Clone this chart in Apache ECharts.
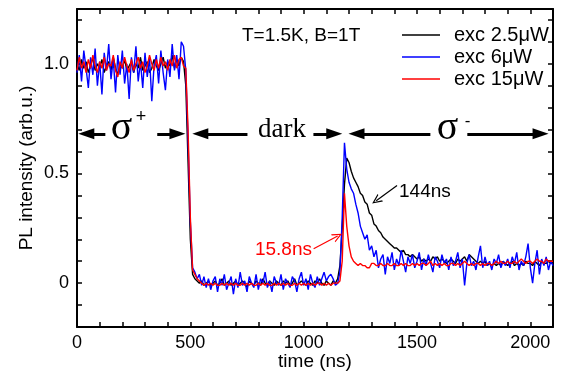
<!DOCTYPE html>
<html>
<head>
<meta charset="utf-8">
<script src="https://cdn.jsdelivr.net/npm/echarts@6/dist/echarts.min.js"></script>
<style>html,body{margin:0;padding:0;background:#fff}#c{width:565px;height:388px}</style>
</head>
<body>
<div id="c"></div>
<script>
// time axis (ns), sampled every 10 ns
const time = [
0,10,20,30,40,50,60,70,80,90,
100,110,120,130,140,150,160,170,180,190,
200,210,220,230,240,250,260,270,280,290,
300,310,320,330,340,350,360,370,380,390,
400,410,420,430,440,450,460,470,480,490,
500,510,520,530,540,550,560,570,580,590,
600,610,620,630,640,650,660,670,680,690,
700,710,720,730,740,750,760,770,780,790,
800,810,820,830,840,850,860,870,880,890,
900,910,920,930,940,950,960,970,980,990,
1000,1010,1020,1030,1040,1050,1060,1070,1080,1090,
1100,1110,1120,1130,1140,1150,1160,1170,1180,1190,
1200,1210,1220,1230,1240,1250,1260,1270,1280,1290,
1300,1310,1320,1330,1340,1350,1360,1370,1380,1390,
1400,1410,1420,1430,1440,1450,1460,1470,1480,1490,
1500,1510,1520,1530,1540,1550,1560,1570,1580,1590,
1600,1610,1620,1630,1640,1650,1660,1670,1680,1690,
1700,1710,1720,1730,1740,1750,1760,1770,1780,1790,
1800,1810,1820,1830,1840,1850,1860,1870,1880,1890,
1900,1910,1920,1930,1940,1950,1960,1970,1980,1990,
2000,2010,2020,2030,2040,2050,2060,2070,2080,2090,
2100];

// exc 2.5 uW (black)
const exc25 = [
1.00,0.97,1.02,0.98,1.01,0.96,0.99,1.03,0.97,1.00,
0.98,1.02,0.96,0.99,1.01,0.97,1.03,0.98,0.95,1.00,
0.98,1.02,0.97,0.99,1.01,0.96,1.00,0.98,1.03,0.97,
0.99,1.01,0.96,0.98,1.02,0.99,0.97,1.00,1.03,0.98,
1.01,0.99,1.04,0.98,1.02,0.99,1.03,1.01,0.90,0.55,
0.20,0.04,0.02,0.01,0.00,0.01,-0.01,0.00,0.01,-0.01,
0.00,0.01,-0.01,0.00,0.02,-0.01,0.00,0.01,-0.01,0.00,
0.01,-0.01,0.00,0.01,0.00,-0.02,0.01,0.00,-0.01,0.01,
0.00,-0.01,0.02,0.00,-0.01,0.01,0.00,-0.01,0.01,0.00,
-0.01,0.01,0.00,0.01,-0.01,0.00,0.02,-0.01,0.00,0.01,
0.00,-0.01,0.01,0.00,-0.01,0.01,0.00,0.02,0.00,-0.01,
0.01,0.00,-0.01,0.01,0.00,0.02,0.08,0.25,0.45,0.57,
0.55,0.51,0.48,0.46,0.44,0.41,0.40,0.37,0.36,0.32,
0.31,0.27,0.26,0.24,0.23,0.21,0.20,0.19,0.18,0.17,
0.16,0.16,0.15,0.14,0.15,0.13,0.13,0.12,0.13,0.12,
0.11,0.12,0.10,0.11,0.10,0.11,0.10,0.12,0.11,0.12,
0.10,0.11,0.10,0.09,0.10,0.11,0.10,0.09,0.11,0.10,
0.11,0.12,0.10,0.13,0.12,0.11,0.10,0.09,0.10,0.09,
0.10,0.08,0.09,0.08,0.09,0.08,0.09,0.08,0.10,0.09,
0.08,0.09,0.10,0.08,0.09,0.08,0.09,0.08,0.10,0.09,
0.09,0.08,0.10,0.09,0.08,0.10,0.09,0.09,0.10,0.09,
0.09];

// exc 6 uW (blue)
const exc6 = [
0.96,1.04,0.92,1.06,0.98,0.89,1.03,0.95,1.07,0.90,
1.01,0.86,1.05,0.97,1.09,0.93,1.02,0.87,1.04,0.95,
1.06,0.91,1.00,0.84,1.03,0.96,1.08,0.92,1.01,0.89,
1.05,0.94,1.03,0.83,0.99,1.04,0.91,1.06,0.96,0.88,
1.02,0.94,1.09,0.97,1.04,0.93,1.10,1.08,0.97,0.65,
0.28,0.07,0.05,0.02,0.04,-0.01,0.03,-0.02,0.02,-0.03,
0.01,0.03,-0.04,0.02,-0.01,0.04,-0.03,0.00,0.03,-0.05,
0.02,-0.02,0.05,-0.01,0.01,-0.04,0.03,0.00,-0.02,0.04,
-0.03,0.02,0.00,0.05,-0.02,0.01,-0.04,0.03,0.00,-0.01,
0.04,-0.03,0.02,0.00,-0.02,0.03,0.01,-0.04,0.02,0.05,
-0.01,0.02,-0.03,0.04,0.00,-0.02,0.03,-0.01,0.02,0.05,
0.01,0.03,0.04,0.02,-0.01,0.00,0.05,0.30,0.64,0.52,
0.46,0.43,0.41,0.36,0.32,0.26,0.23,0.20,0.22,0.15,
0.17,0.12,0.15,0.07,0.11,0.13,0.04,0.12,0.09,0.14,
0.06,0.11,0.08,0.15,0.10,0.05,0.12,0.09,0.13,0.07,
0.10,0.14,0.06,0.11,0.08,0.13,0.09,0.05,0.12,0.10,
0.07,0.13,0.09,0.11,0.06,0.12,0.08,0.10,0.14,0.07,
0.11,-0.01,0.09,0.13,0.08,0.10,0.06,0.12,0.17,0.07,
0.12,0.08,0.10,0.06,0.11,0.09,0.13,0.07,0.10,0.08,
0.11,0.07,0.12,0.09,0.14,0.06,0.10,0.08,0.12,0.18,
0.07,0.00,0.09,0.15,0.04,0.11,0.08,0.12,0.06,0.10,
0.08];

// exc 15 uW (red)
const exc15 = [
0.97,1.03,0.98,1.01,0.96,1.02,0.98,1.04,0.99,0.96,
1.01,0.98,1.03,0.97,1.00,0.99,1.04,0.97,0.94,1.01,
0.98,1.03,0.99,0.96,1.02,0.97,1.00,1.03,0.98,1.01,
0.96,0.99,1.04,1.00,0.97,1.02,0.98,1.03,0.99,1.01,
0.97,1.02,0.99,1.04,0.98,1.02,1.03,0.99,0.98,0.70,
0.30,0.06,0.04,0.02,0.01,0.00,-0.01,0.00,-0.01,0.00,
-0.01,0.00,-0.01,-0.01,0.00,-0.01,0.00,-0.01,0.00,-0.01,
0.00,-0.01,-0.01,0.00,-0.01,0.00,-0.01,0.00,-0.01,-0.01,
0.00,-0.01,0.00,-0.01,0.00,-0.01,-0.01,0.00,-0.01,0.00,
-0.01,0.00,-0.01,0.00,-0.01,-0.01,0.00,-0.01,0.00,-0.01,
0.00,-0.01,0.00,-0.01,0.00,-0.01,0.00,0.00,-0.01,0.00,
-0.01,0.00,-0.01,0.00,0.00,0.00,0.01,0.10,0.41,0.26,
0.17,0.12,0.10,0.09,0.08,0.09,0.08,0.08,0.07,0.07,
0.09,0.09,0.08,0.08,0.09,0.08,0.08,0.09,0.08,0.08,
0.09,0.08,0.08,0.09,0.08,0.09,0.08,0.08,0.09,0.08,
0.09,0.08,0.09,0.09,0.08,0.09,0.10,0.08,0.09,0.08,
0.09,0.08,0.09,0.08,0.08,0.09,0.09,0.08,0.09,0.08,
0.09,0.10,0.09,0.08,0.09,0.08,0.09,0.09,0.08,0.09,
0.08,0.09,0.09,0.08,0.09,0.10,0.09,0.10,0.09,0.09,
0.10,0.09,0.09,0.10,0.09,0.10,0.11,0.10,0.09,0.10,
0.10,0.09,0.10,0.11,0.10,0.10,0.09,0.11,0.10,0.10,
0.10];

const seriesNames = ['exc 2.5\u03bcW', 'exc 6\u03bcW', 'exc 15\u03bcW'];
const seriesColors = ['#000000', '#0000ff', '#ff0000'];
const seriesValues = [exc25, exc6, exc15];
const xTickLabels = [0, 500, 1000, 1500, 2000];
const yTickLabels = {'0': '0', '0.5': '0.5', '1': '1.0'};

const FONT = '"Liberation Sans", Arial, sans-serif';
const SERIF = '"Liberation Serif", "Times New Roman", serif';

function pairs(vals) { return time.map((t, i) => [t, vals[i]]); }

const chart = echarts.init(document.getElementById('c'), null, {renderer: 'canvas'});

const axisCommon = {
  axisLine: {show: true, onZero: false, lineStyle: {color: '#000', width: 2}},
  axisTick: {show: true, inside: true, length: 5, lineStyle: {color: '#000', width: 1.5}},
  splitLine: {show: false}
};

const chevron = 'path://M5,0 L10,10 L8.6,10 L5,2.8 L1.4,10 L0,10 Z';

const arrowY = 0.681;
function half(x1, x2, tipAtStart) {
  return [
    {coord: [x1, arrowY], symbol: tipAtStart ? 'triangle' : 'none'},
    {coord: [x2, arrowY], symbol: tipAtStart ? 'none' : 'triangle'}
  ];
}

const series = seriesNames.map((name, k) => ({
  name: name,
  type: 'line',
  data: pairs(seriesValues[k]),
  symbol: 'none',
  showSymbol: false,
  lineStyle: {color: seriesColors[k], width: 1.4},
  itemStyle: {color: seriesColors[k]},
  z: 2 + k,
  animation: false
}));

// decay-time annotation arrows
series[0].markLine = {
  silent: true, animation: false,
  symbol: ['none', chevron], symbolSize: [9, 10],
  label: {show: false},
  lineStyle: {color: '#000', width: 1.2, type: 'solid'},
  data: [[{coord: [1412, 0.445]}, {coord: [1320, 0.376]}]]
};
series[2].markLine = {
  silent: true, animation: false,
  symbol: ['none', chevron], symbolSize: [9, 10],
  label: {show: false},
  lineStyle: {color: '#ff0000', width: 1.2, type: 'solid'},
  data: [[{coord: [1044, 0.157]}, {coord: [1150, 0.215]}]]
};

// polarization / dark double arrows
series.push({
  name: 'annot', type: 'line', data: [], z: 10, animation: false,
  markLine: {
    silent: true, animation: false,
    symbolSize: [11, 16],
    label: {show: false},
    lineStyle: {color: '#000', width: 3, type: 'solid'},
    itemStyle: {color: '#000'},
    data: [
      half(41, 125, true), half(354, 443, false),
      half(544, 752, true), half(1043, 1135, false),
      half(1233, 1559, true), half(1722, 2045, false)
    ]
  }
});

const option = {
  backgroundColor: '#fff',
  animation: false,
  textStyle: {fontFamily: FONT},
  grid: {left: 77, right: 12, top: 9, bottom: 61, outerBoundsMode: 'none'},
  legend: {
    data: seriesNames,
    orient: 'vertical', left: 402, top: 25, padding: 0,
    itemWidth: 38, itemHeight: 12, itemGap: 2,
    icon: 'path://M0,5 L38,5 L38,6.5 L0,6.5 Z',
    selectedMode: false,
    textStyle: {fontFamily: FONT, fontSize: 20, lineHeight: 20, color: '#000', padding: [0, 0, 0, 9]}
  },
  xAxis: [
    Object.assign({}, axisCommon, {
      type: 'value', position: 'bottom', min: 0, max: 2100, interval: 100,
      name: 'time (ns)', nameLocation: 'middle', nameGap: 25, nameMoveOverlap: false,
      nameTextStyle: {fontFamily: FONT, fontSize: 19, color: '#000'},
      axisLabel: {
        show: true, margin: 7, color: '#000', fontSize: 18, fontFamily: FONT, interval: 0,
        formatter: v => xTickLabels.indexOf(Math.round(v)) >= 0 && Math.abs(v - Math.round(v)) < 1e-6 ? String(Math.round(v)) : ''
      }
    }),
    Object.assign({}, axisCommon, {
      type: 'value', position: 'top', min: 0, max: 2100, interval: 100,
      axisLabel: {show: false}
    })
  ],
  yAxis: [
    Object.assign({}, axisCommon, {
      type: 'value', position: 'left', min: -0.2, max: 1.25, interval: 0.1,
      name: 'PL intensity (arb.u.)', nameLocation: 'middle', nameGap: 41, nameMoveOverlap: false,
      nameTextStyle: {fontFamily: FONT, fontSize: 19, color: '#000'},
      axisLabel: {
        show: true, margin: 8, color: '#000', fontSize: 18, fontFamily: FONT, interval: 0,
        formatter: v => {
          const r = Math.round(v * 10) / 10;
          if (Math.abs(v - r) > 1e-6) return '';
          const key = String(r);
          return yTickLabels[key] || '';
        }
      }
    }),
    Object.assign({}, axisCommon, {
      type: 'value', position: 'right', min: -0.2, max: 1.25, interval: 0.1,
      axisLabel: {show: false}
    })
  ],
  graphic: [
    {type: 'text', x: 242, y: 35.5, silent: true,
     style: {text: 'T=1.5K, B=1T', font: '19px ' + FONT, fill: '#000', align: 'left', verticalAlign: 'middle'}},
    {type: 'text', x: 121.5, y: 128, z: 20, silent: true,
     style: {text: '\u03c3', font: '40px ' + SERIF, fill: '#000', align: 'center', verticalAlign: 'middle'}},
    {type: 'text', x: 141, y: 117.5, z: 20, silent: true,
     style: {text: '+', font: '18px ' + FONT, fill: '#000', align: 'center', verticalAlign: 'middle'}},
    {type: 'text', x: 282, y: 129.5, z: 20, silent: true,
     style: {text: 'dark', font: '27px ' + SERIF, fill: '#000', align: 'center', verticalAlign: 'middle'}},
    {type: 'text', x: 447.5, y: 128, z: 20, silent: true,
     style: {text: '\u03c3', font: '40px ' + SERIF, fill: '#000', align: 'center', verticalAlign: 'middle'}},
    {type: 'text', x: 467.5, y: 121, z: 20, silent: true,
     style: {text: '-', font: '17px ' + FONT, fill: '#000', align: 'center', verticalAlign: 'middle'}},
    {type: 'text', x: 399, y: 191.7, z: 20, silent: true,
     style: {text: '144ns', font: '19px ' + FONT, fill: '#000', align: 'left', verticalAlign: 'middle'}},
    {type: 'text', x: 312, y: 250, z: 20, silent: true,
     style: {text: '15.8ns', font: '19px ' + FONT, fill: '#ff0000', align: 'right', verticalAlign: 'middle'}}
  ],
  series: series
};

chart.setOption(option);
</script>
</body>
</html>
